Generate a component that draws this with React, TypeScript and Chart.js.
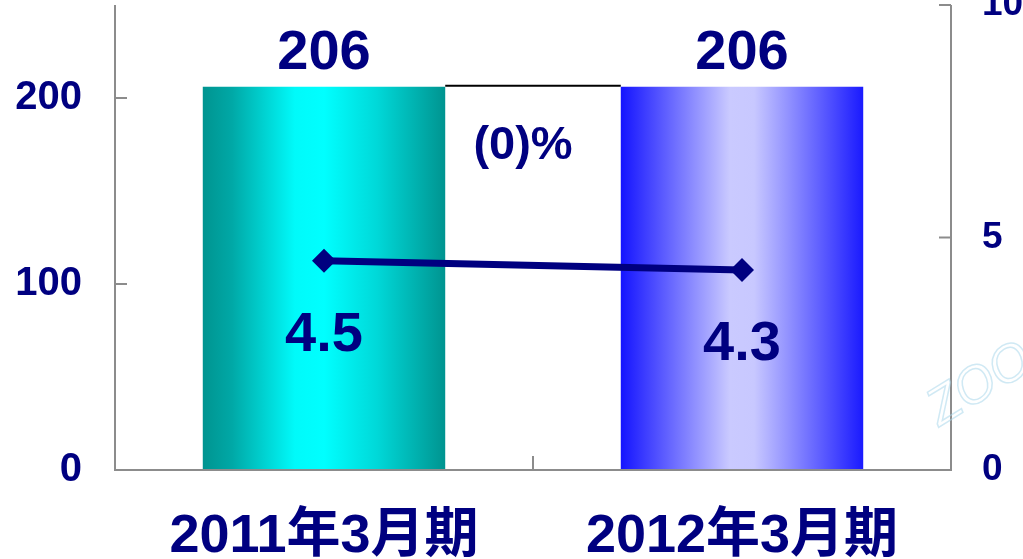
import React, { useEffect, useRef } from "react";
import { Chart, registerables } from "chart.js";

Chart.register(...registerables);

const categories = ["2011年3月期", "2012年3月期"];
const barValues = [206, 206];
const ratioValues = [4.5, 4.3];
const barLabels = ["206", "206"];
const ratioLabels = ["4.5", "4.3"];
const changeLabel = "(0)%";
const leftTicks = [0, 100, 200];
const rightTicks = [0, 5, 10];

const NAVY = "#000080";
const AXIS = "#8c8c8c";
const FONT = '"Liberation Sans", "Noto Sans CJK JP", Arial, sans-serif';

const gradStops = [
  [
    [0, "#009490"],
    [0.12, "#00a8a6"],
    [0.38, "#00fafa"],
    [0.5, "#00ffff"],
    [0.72, "#00d8d8"],
    [1, "#009490"],
  ],
  [
    [0, "#1414ff"],
    [0.45, "#cacaff"],
    [0.55, "#c8c8ff"],
    [1, "#1a1aff"],
  ],
];

const noPad = (s: any) => {
  s.paddingTop = 0;
  s.paddingBottom = 0;
  s.paddingLeft = 0;
  s.paddingRight = 0;
};

export default function App() {
  const ref = useRef<HTMLCanvasElement | null>(null);

  useEffect(() => {
    if (!ref.current) return;
    const barFrac = 0.58;

    const bgFor = (ctx: any) => {
      const chart = ctx.chart;
      const xs = chart.scales.x;
      const i = ctx.dataIndex ?? 0;
      if (!xs || !chart.chartArea) return gradStops[i][1][1];
      const center = xs.getPixelForValue(i);
      const w = (chart.chartArea.width / categories.length) * barFrac;
      const g = chart.ctx.createLinearGradient(center - w / 2, 0, center + w / 2, 0);
      gradStops[i].forEach((s: any) => g.addColorStop(s[0], s[1]));
      return g;
    };

    const overlay = {
      id: "overlay",
      beforeDatasetsDraw(chart: any) {
        const c = chart.ctx;
        const meta = chart.getDatasetMeta(0);
        const b0 = meta.data[0];
        const b1 = meta.data[1];
        if (!b0 || !b1) return;
        c.save();
        c.strokeStyle = "#000000";
        c.lineWidth = 2;
        c.beginPath();
        c.moveTo(b0.x + b0.width / 2, b0.y - 1);
        c.lineTo(b1.x - b1.width / 2, b1.y - 1);
        c.stroke();
        c.restore();
      },
      afterDatasetsDraw(chart: any) {
        const c = chart.ctx;
        const area = chart.chartArea;
        const ys = chart.scales.y;
        const y1 = chart.scales.y1;
        const xs = chart.scales.x;
        c.save();
        c.strokeStyle = AXIS;
        c.lineWidth = 2;
        c.beginPath();
        c.moveTo(area.left, area.top);
        c.lineTo(area.left, area.bottom);
        c.lineTo(area.right, area.bottom);
        c.lineTo(area.right, area.top);
        c.stroke();
        leftTicks.forEach((v) => {
          const y = ys.getPixelForValue(v);
          c.beginPath();
          c.moveTo(area.left, y);
          c.lineTo(area.left + 12, y);
          c.stroke();
        });
        rightTicks.forEach((v) => {
          const y = y1.getPixelForValue(v);
          c.beginPath();
          c.moveTo(area.right, y);
          c.lineTo(area.right - 12, y);
          c.stroke();
        });
        const mid = (xs.getPixelForValue(0) + xs.getPixelForValue(1)) / 2;
        c.beginPath();
        c.moveTo(mid, area.bottom);
        c.lineTo(mid, area.bottom - 14);
        c.stroke();

        c.fillStyle = NAVY;
        c.textAlign = "center";
        c.textBaseline = "middle";
        const meta = chart.getDatasetMeta(0);
        c.font = `bold 56px ${FONT}`;
        meta.data.forEach((el: any, i: number) => {
          c.fillText(barLabels[i], el.x, el.y - 33);
        });
        const lmeta = chart.getDatasetMeta(1);
        lmeta.data.forEach((el: any, i: number) => {
          c.fillText(ratioLabels[i], el.x, el.y + 75);
        });
        c.font = `bold 47px ${FONT}`;
        const b0 = meta.data[0];
        c.fillText(changeLabel, mid - 10, b0.y + 59);

        c.translate(980, 385);
        c.rotate(-0.55);
        c.font = `italic 52px ${FONT}`;
        c.strokeStyle = "rgba(170, 215, 235, 0.55)";
        c.lineWidth = 1.5;
        c.strokeText("ZOO", 0, 0);
        c.restore();
      },
    };

    const chart = new Chart(ref.current, {
      type: "bar",
      data: {
        labels: categories,
        datasets: [
          {
            type: "bar",
            data: barValues,
            backgroundColor: bgFor,
            borderWidth: 0,
            barPercentage: barFrac,
            categoryPercentage: 1,
            yAxisID: "y",
            order: 2,
          },
          {
            type: "line",
            data: ratioValues,
            borderColor: NAVY,
            backgroundColor: NAVY,
            borderWidth: 7,
            pointStyle: "rectRot",
            pointRadius: 12,
            pointBorderWidth: 0,
            yAxisID: "y1",
            order: 1,
          } as any,
        ],
      },
      options: {
        responsive: false,
        animation: false,
        layout: { autoPadding: false, padding: { top: 5, left: 0, right: 0, bottom: 0 } },
        plugins: { legend: { display: false }, tooltip: { enabled: false } },
        scales: {
          x: {
            grid: { display: false, drawTicks: false },
            border: { display: false },
            ticks: {
              color: NAVY,
              font: { family: FONT, size: 54, weight: "bold", lineHeight: 1.2 },
              padding: 35,
              maxRotation: 0,
              autoSkip: false,
            },
            afterFit(s: any) {
              s.height = 89;
              noPad(s);
            },
          },
          y: {
            position: "left",
            min: 0,
            max: 250,
            grid: { display: false, drawTicks: false },
            border: { display: false },
            ticks: {
              stepSize: 100,
              color: NAVY,
              font: { family: FONT, size: 40, weight: "bold" },
              padding: 33,
              callback: (v: any) => (leftTicks.includes(Number(v)) ? String(v) : ""),
            },
            afterFit(s: any) {
              s.width = 115;
              noPad(s);
            },
          },
          y1: {
            position: "right",
            min: 0,
            max: 10,
            grid: { display: false, drawTicks: false },
            border: { display: false },
            ticks: {
              stepSize: 5,
              color: NAVY,
              autoSkip: false,
              font: { family: FONT, size: 37, weight: "bold" },
              padding: 31,
              callback: (v: any) => (rightTicks.includes(Number(v)) ? String(v) : ""),
            },
            afterFit(s: any) {
              s.width = 72;
              noPad(s);
            },
          },
        },
      },
      plugins: [overlay],
    });
    return () => chart.destroy();
  }, []);

  return (
    <div style={{ position: "fixed", left: 0, top: 0, width: 1023, height: 559, background: "#fff" }}>
      <canvas ref={ref} width={1023} height={559} style={{ display: "block" }} />
    </div>
  );
}
